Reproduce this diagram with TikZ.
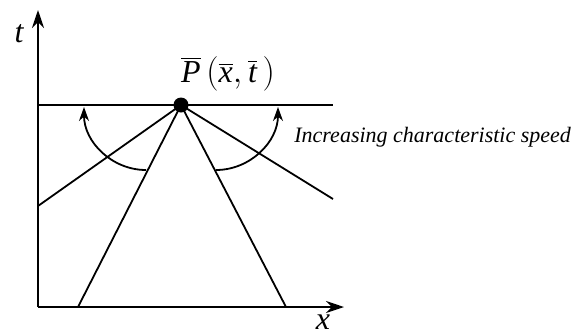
\documentclass[tikz,border=0pt]{standalone}
\usepackage{fontspec}
\setmainfont{Liberation Serif}
\newfontfamily\timesfont{Liberation Serif}
\usetikzlibrary{arrows.meta, positioning}

\begin{document}
\begin{tikzpicture}[
x=0.5pt, y=-0.5pt,
axis/.style={-{Stealth[length=9pt,width=6pt]}, line width=1pt},
ray/.style={line width=0.9pt},
turn/.style={-{Stealth[length=7pt,width=5pt]}, line width=0.9pt},
lbl/.style={inner sep=0pt, font=\timesfont\fontsize{16}{18}\selectfont\itshape}
]
\useasboundingbox (0,0) rectangle (579,333);

% ---------- AXES ----------

\coordinate (origin) at (38,307);
\coordinate (ttip) at (38,10);
\coordinate (xtip) at (344,307);

\draw[axis] (origin) -- (ttip);
\draw[axis] (origin) -- (xtip);

\node[lbl, anchor=base] (tlabel) at (19,42) {t};
\node[lbl, anchor=base] (xlabel) at (323,329) {x};

% ---------- POINT AND LINE t = const ----------

\coordinate (hleft) at (38,105);
\coordinate (hright) at (333,105);
\draw[ray] (hleft) -- (hright);

\coordinate (lowleft) at (38,206);
\coordinate (lowright) at (333,199);
\coordinate (footleft) at (78,307);
\coordinate (footright) at (286,307);

\node[circle, fill, inner sep=0pt, minimum size=7.5pt] (P) at (181,105) {};

\node[lbl, anchor=base] (Plabel) at (228,82)
{$\overline{\hbox{\timesfont\itshape P}}\left(\overline{\hbox{\timesfont\itshape x}},\overline{\hbox{\timesfont\itshape t}}\,\right)$};

% ---------- CHARACTERISTICS ----------

\draw[ray] (P.center) -- (lowleft);
\draw[ray] (P.center) -- (footleft);
\draw[ray] (P.center) -- (footright);
\draw[ray] (P.center) -- (lowright);

% ---------- ARROWS ----------

\coordinate (arcL) at (146,170);
\coordinate (tipL) at (84,107);
\coordinate (arcR) at (216,170);
\coordinate (tipR) at (278,107);

\draw[turn] (arcL) .. controls (112,170) and (84,142) .. (tipL);
\draw[turn] (arcR) .. controls (250,170) and (278,142) .. (tipR);

\node[anchor=base west, inner sep=0pt, font=\timesfont\fontsize{11}{13}\selectfont\itshape]
(speed) at (294,142) {Increasing characteristic speed};

\end{tikzpicture}
\end{document}
